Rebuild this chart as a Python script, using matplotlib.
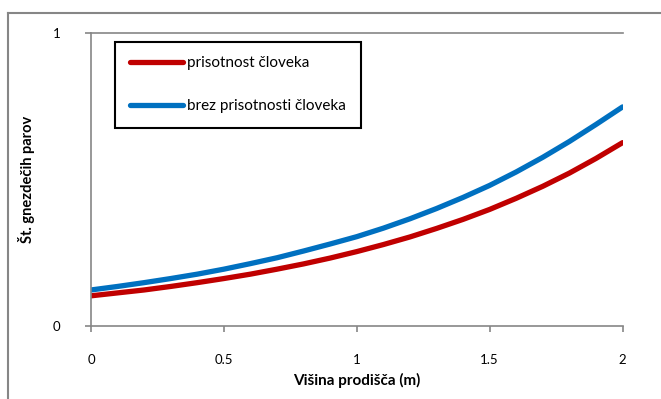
import matplotlib
matplotlib.use("Agg")
import matplotlib.pyplot as plt
from matplotlib.lines import Line2D

plt.rcParams['font.family'] = ['Lato', 'DejaVu Sans']

# visina prodisca (m) in ocenjeno st. gnezdecih parov
visina = [0.0, 0.1, 0.2, 0.3, 0.4, 0.5, 0.6, 0.7, 0.8, 0.9, 1.0,
          1.1, 1.2, 1.3, 1.4, 1.5, 1.6, 1.7, 1.8, 1.9, 2.0]
s_clovekom = [0.103, 0.113, 0.123, 0.135, 0.148, 0.162, 0.177, 0.194, 0.212, 0.232, 0.254,
              0.278, 0.304, 0.333, 0.364, 0.398, 0.436, 0.477, 0.522, 0.572, 0.626]
brez_cloveka = [0.123, 0.135, 0.148, 0.162, 0.177, 0.194, 0.213, 0.233, 0.256, 0.280, 0.305,
                0.334, 0.366, 0.401, 0.439, 0.480, 0.526, 0.576, 0.630, 0.688, 0.748]
x_ticks = [0, 0.5, 1, 1.5, 2]
x_tick_labels = ['0', '0.5', '1', '1.5', '2']

fig = plt.figure(figsize=(6.61, 3.99), dpi=100)
ax = fig.add_axes([0.1377, 0.183, 0.8041, 0.734])

ax.plot(visina, s_clovekom, color='#C00000', lw=3.8, solid_capstyle='round',
        label='prisotnost človeka')
ax.plot(visina, brez_cloveka, color='#0070C0', lw=3.8, solid_capstyle='round',
        label='brez prisotnosti človeka')

ax.set_xlim(0, 2)
ax.set_ylim(0, 1)
ax.set_xticks(x_ticks)
ax.set_xticklabels(x_tick_labels)
ax.set_yticks([0, 1])
ax.set_yticklabels(['0', '1'])

for s in ['left', 'bottom', 'top']:
    ax.spines[s].set_color('#868686')
    ax.spines[s].set_linewidth(1.2)
ax.spines['right'].set_visible(False)
ax.tick_params(axis='both', direction='out', length=4, width=1.2, color='#868686',
               labelsize=9.5, labelcolor='black')
ax.tick_params(axis='x', pad=16)
ax.tick_params(axis='y', pad=18)

ax.set_xlabel('Višina prodišča (m)', fontsize=11, fontweight='bold', labelpad=5)
ax.set_ylabel('Št. gnezdečih parov', fontsize=10.5, fontweight='bold', labelpad=13)

leg = ax.legend(loc='upper left', bbox_to_anchor=(0.046, 0.970), fontsize=11,
                frameon=True, fancybox=False, edgecolor='black', framealpha=1,
                handlelength=3.5, handletextpad=0.25, labelspacing=1.9,
                borderpad=0.95, borderaxespad=0)
leg.get_frame().set_linewidth(1.5)

# zunanji okvir grafikona
fig.add_artist(Line2D([8 / 661, 8 / 661], [0, 1 - 13 / 399], transform=fig.transFigure,
                      color='#868686', lw=1.5))
fig.add_artist(Line2D([8 / 661, 1], [1 - 13 / 399, 1 - 13 / 399], transform=fig.transFigure,
                      color='#868686', lw=1.5))

fig.savefig('out.png', dpi=100)
